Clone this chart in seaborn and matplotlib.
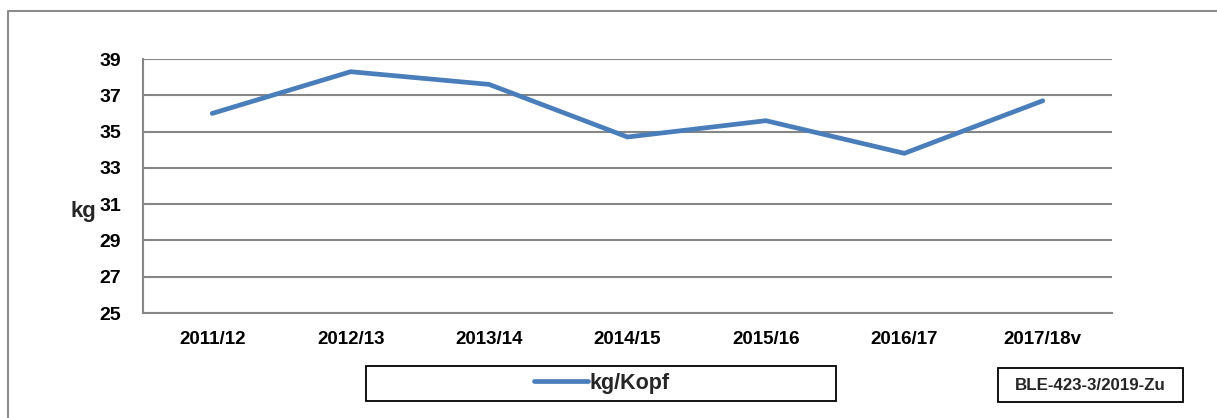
import matplotlib
matplotlib.use("Agg")
import matplotlib.pyplot as plt
import seaborn as sns
import pandas as pd
from matplotlib.lines import Line2D
from matplotlib.patches import Rectangle
from matplotlib.ticker import FixedLocator

# ---- data ----
seasons = ["2011/12", "2012/13", "2013/14", "2014/15", "2015/16", "2016/17", "2017/18v"]
kg_per_head = [36.0, 38.3, 37.6, 34.7, 35.6, 33.8, 36.7]
series_name = "kg/Kopf"
y_ticks = [25, 27, 29, 31, 33, 35, 37, 39]
source_note = "BLE-423-3/2019-Zu"

sns.set_theme(style="white")
plt.rcParams["font.family"] = ["Liberation Sans", "DejaVu Sans"]
plt.rcParams["font.weight"] = "bold"

W, H = 1217, 418
fig = plt.figure(figsize=(W / 100, H / 100), dpi=100)
fig.patch.set_facecolor("white")

def fx(px):
    return px / W

def fy(py):
    return 1 - py / H

ax = fig.add_axes([fx(143), fy(313), fx(1112) - fx(143), fy(59) - fy(313)])

df = pd.DataFrame({"season": seasons, "value": kg_per_head})
sns.lineplot(data=df, x="season", y="value", ax=ax, color="#4A7EBB",
             linewidth=3.4, solid_capstyle="round", solid_joinstyle="miter",
             label=series_name, legend=False, sort=False)

grey = "#868686"
ax.set_xlim(-0.5, len(seasons) - 0.5)
ax.set_ylim(25, 39)
ax.set_yticks(y_ticks)
ax.set_yticklabels([str(t) for t in y_ticks], fontsize=14, fontweight="bold", color="black")
ax.set_xticks(range(len(seasons)))
ax.set_xticklabels(seasons, fontsize=13.5, fontweight="bold", color="black")
ax.xaxis.set_minor_locator(FixedLocator([i - 0.5 for i in range(len(seasons) + 1)]))
ax.tick_params(axis="x", which="major", length=0, pad=13)
ax.tick_params(axis="x", which="minor", length=5, width=1.5, color=grey, direction="out")
ax.tick_params(axis="y", which="major", length=5, width=1.5, color=grey, direction="out", pad=11)
ax.set_xlabel("")
ax.set_ylabel("")
ax.grid(axis="y", color=grey, linewidth=1.5)
ax.grid(axis="x", visible=False)
ax.set_axisbelow(True)
for s in ["top", "right"]:
    ax.spines[s].set_visible(False)
for s in ["left", "bottom"]:
    ax.spines[s].set_color(grey)
    ax.spines[s].set_linewidth(1.5)

# y unit label
fig.text(fx(70), fy(211), "kg", fontsize=16, fontweight="bold", ha="left", va="center")

# legend box + legend
fig.add_artist(Rectangle((fx(366), fy(401)), fx(836) - fx(366), fy(366) - fy(401),
                         transform=fig.transFigure, fill=False, edgecolor="black", linewidth=1.3))
h, l = ax.get_legend_handles_labels()
fig.legend(h, l, loc="center", bbox_to_anchor=(fx(602), fy(383.5)), frameon=False,
           prop={"size": 15.5, "weight": "bold"}, handlelength=2.5, handletextpad=0.1)

# source box
fig.add_artist(Rectangle((fx(998), fy(402)), fx(1183) - fx(998), fy(368) - fy(402),
                         transform=fig.transFigure, fill=False, edgecolor="black", linewidth=1.3))
fig.text(fx(1090.5), fy(385), source_note, fontsize=12.2, fontweight="bold",
         ha="center", va="center")

# outer frame (top and left visible)
fig.add_artist(Line2D([fx(8), fx(8), 1.0], [0.0, fy(11), fy(11)], transform=fig.transFigure,
                      color="#8c8c8c", linewidth=1.5))

fig.savefig("out.png", dpi=100)
